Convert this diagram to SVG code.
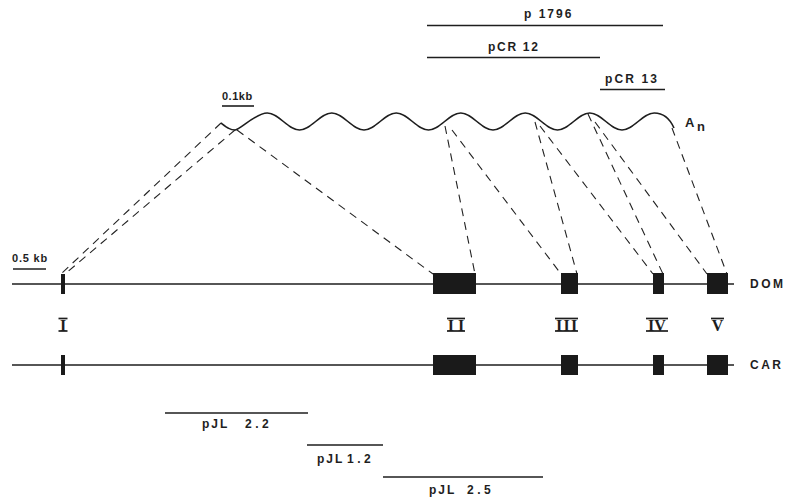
<svg xmlns="http://www.w3.org/2000/svg" width="790" height="499" viewBox="0 0 790 499">
<style>
.ln{stroke:#1e1e1e;stroke-width:1.6;fill:none}
.bar{stroke:#1e1e1e;stroke-width:1.7;fill:none}
.dash{stroke:#222;stroke-width:1.1;stroke-dasharray:8 6;fill:none}
.ex{fill:#1a1a1a}
.t{font-family:"Liberation Sans",Arial,sans-serif;font-weight:bold;font-size:12px;fill:#1e1e1e;letter-spacing:2px}
.num{letter-spacing:3.5px}
.rn{font-family:"Liberation Serif","Times New Roman",serif;font-weight:bold;font-size:16px;fill:#1e1e1e;text-anchor:middle}
</style>
<rect width="790" height="499" fill="#fff"/>
<g id="probes-top">
<line class="ln" x1="427" y1="25.5" x2="663" y2="25.5"/>
<text class="t" x="524" y="18">p 1796</text>
<line class="ln" x1="427" y1="57.5" x2="600" y2="57.5"/>
<text class="t" x="488" y="51" style="letter-spacing:1.7px">pCR 12</text>
<line class="ln" x1="600" y1="89.5" x2="665" y2="89.5"/>
<text class="t" x="605" y="83" style="letter-spacing:2.1px">pCR 13</text>
</g>
<g id="mrna">
<line class="ln" x1="222" y1="106" x2="254" y2="106"/>
<text class="t" x="222" y="100" style="font-size:11px;letter-spacing:0.5px">0.1kb</text>
<path class="ln" d="M221,123 C227,127.5 230,130 235,130 S255.5,113 267.25,113 S287.75,130 299.5,130 S320,113 331.75,113 S352.25,130 364,130 S384.5,113 396.25,113 S416.75,130 428.5,130 S449,113 460.75,113 S481.25,130 493,130 S513.5,113 525.25,113 S545.75,130 557.5,130 S578,113 589.75,113 S610.25,130 622,130 S642.5,113 654.25,113 C664,113 670,119 674,128"/>
<text class="t" x="685" y="127" style="font-size:13px;letter-spacing:0">A<tspan x="697" y="131">n</tspan></text>
</g>
<g id="connectors">
<line class="dash" x1="221" y1="123" x2="61" y2="274"/>
<line class="dash" x1="235" y1="130" x2="65" y2="274"/>
<line class="dash" x1="237" y1="130" x2="433" y2="274"/>
<line class="dash" x1="445" y1="126" x2="475" y2="274"/>
<line class="dash" x1="452" y1="130" x2="561" y2="274"/>
<line class="dash" x1="535" y1="122" x2="577" y2="274"/>
<line class="dash" x1="540" y1="126" x2="653" y2="274"/>
<line class="dash" x1="588" y1="114" x2="663" y2="274"/>
<line class="dash" x1="595" y1="122" x2="707" y2="274"/>
<line class="dash" x1="672" y1="128" x2="727" y2="274"/>
</g>
<g id="dom">
<line class="ln" x1="12" y1="284" x2="734" y2="284"/>
<rect class="ex" x="61" y="274" width="4" height="20"/>
<rect class="ex" x="433" y="273" width="43" height="21"/>
<rect class="ex" x="561" y="273" width="17" height="21"/>
<rect class="ex" x="653" y="273" width="11" height="21"/>
<rect class="ex" x="707" y="273" width="21" height="21"/>
<text class="t" x="750" y="288" style="letter-spacing:2.5px">DOM</text>
</g>
<g id="scale">
<line class="ln" x1="13" y1="269" x2="46" y2="269"/>
<text class="t" x="12" y="262" style="font-size:11px;letter-spacing:0.8px">0.5 kb</text>
</g>
<g id="numerals">
<g id="num-I"><line class="bar" x1="58.5" y1="318.5" x2="67.5" y2="318.5"/><line class="bar" x1="58.5" y1="331" x2="67.5" y2="331"/><text class="rn" x="63" y="331">I</text></g>
<g id="num-II"><line class="bar" x1="447" y1="318.5" x2="465" y2="318.5"/><line class="bar" x1="447" y1="331" x2="465" y2="331"/><text class="rn" x="458" y="331" style="letter-spacing:4px">II</text></g>
<g id="num-III"><line class="bar" x1="555" y1="318.5" x2="578" y2="318.5"/><line class="bar" x1="555" y1="331" x2="578" y2="331"/><text class="rn" x="567.2" y="331" style="letter-spacing:1.3px">III</text></g>
<g id="num-IV"><line class="bar" x1="646" y1="318.5" x2="668" y2="318.5"/><line class="bar" x1="646" y1="331" x2="668" y2="331"/><text class="rn" x="657" y="331">IV</text></g>
<g id="num-V"><line class="bar" x1="711" y1="318.5" x2="724" y2="318.5"/><text class="rn" x="717.5" y="331">V</text></g>
</g>
<g id="car">
<line class="ln" x1="12" y1="365" x2="734" y2="365"/>
<rect class="ex" x="61" y="355" width="4" height="20"/>
<rect class="ex" x="433" y="355" width="43" height="20"/>
<rect class="ex" x="561" y="355" width="17" height="20"/>
<rect class="ex" x="653" y="355" width="11" height="20"/>
<rect class="ex" x="707" y="355" width="21" height="20"/>
<text class="t" x="750" y="369" style="letter-spacing:2.5px">CAR</text>
</g>
<g id="probes-bottom">
<line class="ln" x1="165" y1="413" x2="308" y2="413"/>
<text class="t" x="202" y="428">pJL <tspan class="num" x="245">2.2</tspan></text>
<line class="ln" x1="307" y1="445" x2="383" y2="445"/>
<text class="t" x="317" y="463">pJL <tspan class="num" x="347">1.2</tspan></text>
<line class="ln" x1="383" y1="477" x2="543" y2="477"/>
<text class="t" x="429" y="494">pJL <tspan class="num" x="467">2.5</tspan></text>
</g>
</svg>
